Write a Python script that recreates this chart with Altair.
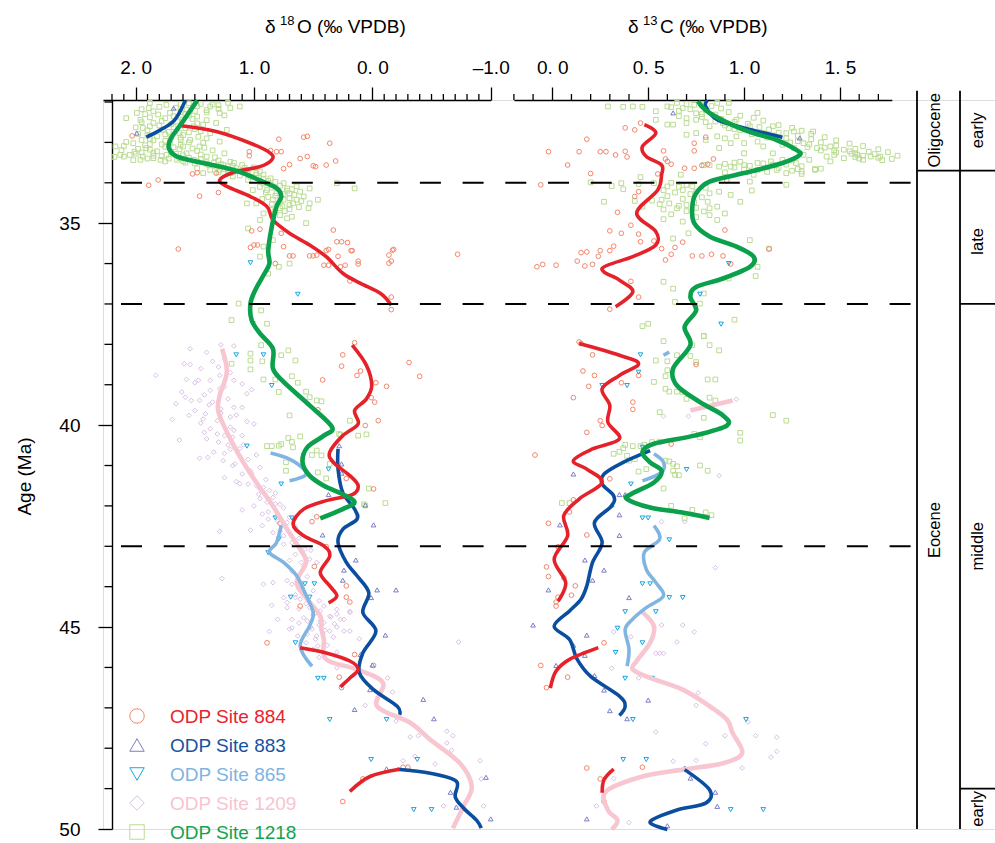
import altair as alt
import pandas as pd

FONT = "Liberation Sans"

# ---------------- sites / styling lists ----------------
SITES = ["884", "883", "865", "1209", "1218"]
LEGEND_LABELS = ["ODP Site 884", "ODP Site 883", "ODP Site 865", "ODP Site 1209", "ODP Site 1218"]
SHAPES = ["circle", "triangle-up", "triangle-down", "diamond", "square"]
POINT_COLORS = ["#F3866B", "#7B7EC6", "#1AA6E0", "#D9C0E5", "#BADB93"]
LINE_COLORS = ["#E5222A", "#0B4EA0", "#80B5E2", "#F8C6D1", "#0BA04B"]
LABEL_COLORS = ["#E8232B", "#1553A3", "#7FB3E0", "#F8C4CF", "#15A24E"]
LINE_WIDTHS = [3.6, 3.6, 3.6, 4.6, 4.6]

# ---------------- axes values ----------------
AGE_DOMAIN = [31.95, 50.0]
O_DOMAIN = [2.276, -1.0]
C_DOMAIN = [-0.2, 1.77]
O_TICKS_MAJOR = [2.0, 1.0, 0.0, -1.0]
O_TICK_LABELS = ["2. 0", "1. 0", "0. 0", "\u20131.0"]
O_TICKS_MINOR = [2.2, 2.1, 1.9, 1.8, 1.7, 1.6, 1.5, 1.4, 1.3, 1.2, 1.1, 0.9, 0.8, 0.7, 0.6, 0.5,
                 0.4, 0.3, 0.2, 0.1, -0.1, -0.2, -0.3, -0.4, -0.5, -0.6, -0.7, -0.8, -0.9]
C_TICKS_MAJOR = [0.0, 0.5, 1.0, 1.5]
C_TICK_LABELS = ["0. 0", "0. 5", "1. 0", "1. 5"]
C_TICKS_MINOR = [-0.2, -0.1, 0.1, 0.2, 0.3, 0.4, 0.6, 0.7, 0.8, 0.9, 1.1, 1.2, 1.3, 1.4, 1.6, 1.7]
AGE_TICKS_MAJOR = [35, 40, 45, 50]
AGE_TICKS_MINOR = [32, 33, 34, 36, 37, 38, 39, 41, 42, 43, 44, 46, 47, 48, 49]
DASHED_AGES = [34.0, 37.0, 43.0]

# stratigraphic column
COLUMN_TOP = 31.72
COLUMN_BOTTOM = 50.0
EPOCH_BOUNDARIES = [33.7]
SUBEPOCH_BOUNDARIES = [37.0, 49.0]
EPOCH_LABELS = ["Oligocene", "Eocene"]
EPOCH_LABEL_AGES = [32.7, 42.6]
SUBEPOCH_LABELS = ["early", "late", "middle", "early"]
SUBEPOCH_LABEL_AGES = [32.7, 35.45, 43.0, 49.5]

# ---------------- d18O points (age, value) ----------------
P884_O = [(32.84, 2.03), (32.92, 0.79), (32.87, 0.58), (32.85, 0.55), (33.02, 0.36), (33.23, 1.04),
          (33.20, 0.86), (33.23, 0.81), (33.23, 0.77), (33.33, 1.04), (33.40, 0.61), (33.35, 0.55),
          (33.46, 0.31), (33.56, 0.39), (33.60, 0.48), (33.58, 0.50), (33.55, 0.70), (33.65, 0.75),
          (33.78, 1.52), (33.75, 1.48), (33.76, 1.32), (33.93, 1.81), (34.06, 1.89), (34.24, 1.30),
          (34.33, 1.46), (35.25, 0.77), (35.19, 1.02), (35.15, 0.95), (35.17, 0.33), (35.46, 0.30),
          (35.46, 0.26), (35.48, 0.21), (35.60, 1.03), (35.54, 1.00), (35.54, 0.97), (35.58, 0.75),
          (35.65, 0.37), (35.68, 0.39), (35.68, 0.18), (35.68, 0.17), (35.65, -0.18), (35.79, -0.14),
          (35.94, -0.16), (35.99, -0.14), (35.94, 0.12), (36.01, 0.12), (36.04, 0.23), (36.08, 0.27),
          (35.82, 0.29), (36.04, 0.41), (36.04, 0.37), (35.79, 0.47), (35.81, 0.50), (35.81, 0.53),
          (35.81, 0.67), (35.81, 0.70), (36.00, 0.82), (36.43, 0.19), (35.64, 1.64), (36.83, -0.16),
          (37.14, -0.16), (35.67, -0.17), (35.77, -0.72),
          (37.96, 0.15), (38.26, 0.25), (38.54, 0.26), (38.66, 0.10), (38.77, 0.13), (38.45, -0.31),
          (38.79, -0.40), (38.88, 0.42), (38.95, -0.03), (39.04, -0.12), (39.32, 0.01), (39.43, -0.02),
          (39.89, -0.05), (40.01, 0.06), (39.62, 0.46), (41.58, -0.01), (41.32, 0.22), (42.27, 0.47),
          (42.39, 0.51), (43.50, 0.49), (43.98, 0.22), (44.26, 0.22), (44.38, 0.19), (44.48, 0.61),
          (43.01, 0.39), (42.43, 0.78),
          (45.39, 0.89), (45.68, 0.15), (45.95, -0.01), (46.24, 0.28), (46.50, 0.26), (48.76, 0.08),
          (49.32, 0.25), (48.47, -0.26), (48.47, -0.30)]
P883_O = [(32.15, 1.68), (32.77, 1.99), (40.51, 0.28), (40.96, 0.26), (41.19, 0.26), (41.72, 0.37),
          (41.98, 0.06), (42.47, -0.01), (42.72, 0.42), (43.34, 0.14), (43.59, 0.24), (43.84, 0.25),
          (44.08, -0.04), (44.08, -0.20), (44.27, 0.01), (45.20, -0.11), (45.68, 0.10), (45.94, 0.00),
          (46.55, 0.02), (46.79, -0.43), (47.04, 0.15), (47.27, -0.52), (48.51, -0.12), (49.09, -0.66),
          (48.72, -0.96), (49.75, -1.00), (49.46, -0.71)]
P865_O = [(35.98, 1.03), (36.76, 0.63), (37.49, 1.01), (38.26, 1.15), (38.26, 0.92), (39.02, 0.85),
          (40.52, 1.06), (41.46, 0.77), (41.09, 0.37), (42.30, 0.82), (42.30, 0.68), (42.82, 0.79),
          (43.16, 0.88), (43.93, 0.49), (43.93, 0.57), (44.26, 0.53), (44.26, 0.69), (45.39, 0.65),
          (46.27, 0.46), (46.27, 0.41), (47.29, 0.36), (47.29, -0.12), (48.28, 0.01), (48.28, -0.38),
          (49.52, -0.35), (49.52, -0.50)]
P1209_O = [(38.01, 1.28), (38.04, 1.17), (38.11, 1.54), (38.42, 1.35), (38.48, 1.59), (38.50, 1.54),
           (38.56, 1.30), (38.77, 1.29), (38.77, 1.83), (38.87, 1.57), (38.89, 1.47), (38.89, 1.37),
           (38.89, 1.17), (38.98, 1.10), (39.12, 1.02), (39.22, 1.06), (39.14, 1.37), (39.10, 1.29),
           (39.18, 1.61), (39.31, 1.58), (39.39, 1.53), (39.39, 1.46), (39.43, 1.35), (39.47, 1.66),
           (39.56, 1.17), (39.56, 1.10), (39.64, 1.50), (39.72, 1.41), (39.76, 1.55), (39.86, 1.69),
           (39.85, 1.43), (39.89, 1.31), (39.80, 1.20), (39.91, 1.06), (39.97, 1.00), (40.09, 1.37),
           (40.22, 1.31), (40.26, 1.25), (40.13, 1.17), (40.26, 1.10), (40.37, 1.63), (40.34, 1.40),
           (40.49, 1.22), (40.49, 1.09), (40.67, 1.34), (40.82, 1.46), (40.80, 1.39), (40.88, 1.26),
           (40.96, 1.16), (40.74, 0.98), (41.13, 1.03), (41.21, 1.10), (41.30, 1.25), (41.46, 1.05),
           (41.50, 0.98), (41.54, 0.92), (41.62, 0.87), (41.71, 0.96), (41.79, 0.84), (41.91, 0.89),
           (41.96, 0.78), (42.10, 1.10), (42.20, 0.93), (42.33, 0.88), (42.25, 0.81), (42.41, 0.72),
           (42.49, 0.93), (42.66, 0.84), (42.60, 1.03), (42.63, 1.29), (42.74, 0.75), (42.91, 0.68),
           (43.07, 0.57), (43.32, 0.53), (43.40, 0.60), (43.40, 0.47), (43.80, 1.27), (43.94, 0.92),
           (43.90, 0.84), (43.94, 0.68), (44.27, 0.75), (44.27, 0.65), (44.46, 0.85), (44.52, 0.72),
           (44.31, 0.61), (44.52, 0.53), (44.48, 0.41), (44.56, 0.30), (44.61, 0.19), (44.73, 0.36),
           (44.81, 0.24), (45.02, 0.68), (44.39, 0.72), (44.81, 0.80), (44.81, 0.68), (44.77, 0.58),
           (45.05, 0.51), (45.22, 0.47), (44.89, 0.41), (45.10, 0.36), (44.81, 0.27), (44.64, 0.19),
           (45.10, 0.24), (45.22, 0.63), (45.05, 0.70), (45.11, 0.87), (45.39, 0.56), (45.47, 0.46),
           (45.10, 0.19), (45.29, 0.11), (45.37, -0.73), (46.01, 0.30), (46.17, 0.15), (46.26, -0.13),
           (46.61, -0.17), (46.94, 0.06), (47.33, -0.20), (47.72, -0.32), (47.69, -0.39), (47.58, -0.63),
           (47.69, -0.68), (47.87, -0.63), (48.05, -0.67), (48.20, -0.36), (48.31, -0.26), (48.39, -0.53),
           (48.31, -0.91), (48.76, -0.92), (49.43, -0.94), (49.43, -0.60),
           (44.95, 0.45), (44.70, 0.50), (44.90, 0.62), (45.00, 0.30), (44.85, 0.55), (45.15, 0.42),
           (44.60, 0.44), (44.75, 0.35), (42.00, 1.00), (41.40, 1.15), (40.60, 1.20), (39.70, 1.28),
           (38.20, 1.40), (38.35, 1.25), (38.60, 1.45), (38.70, 1.20), (38.95, 1.50), (39.05, 1.25),
           (39.25, 1.42), (39.35, 1.22), (39.50, 1.38), (39.60, 1.28), (39.75, 1.15), (39.95, 1.45),
           (40.05, 1.20), (40.18, 1.42), (40.30, 1.18), (40.42, 1.30), (40.58, 1.12), (40.70, 1.25),
           (40.85, 1.05), (41.00, 1.18), (41.05, 0.95), (41.20, 1.02), (41.35, 0.90), (41.45, 1.12),
           (41.58, 0.95), (41.68, 0.82), (41.82, 0.95), (41.95, 0.82), (42.05, 0.75), (42.15, 0.88),
           (42.28, 0.70), (42.38, 0.80), (42.52, 0.65), (42.62, 0.78), (42.80, 0.62), (42.95, 0.75),
           (43.10, 0.52), (43.20, 0.65), (43.35, 0.70), (43.50, 0.58), (43.62, 0.68), (43.75, 0.55),
           (43.85, 0.72), (44.00, 0.60), (44.10, 0.50), (44.20, 0.65), (44.35, 0.45), (44.42, 0.56),
           (44.55, 0.62), (44.65, 0.48), (44.68, 0.30), (44.85, 0.44), (44.92, 0.32), (45.00, 0.52),
           (45.08, 0.40), (45.18, 0.55), (45.25, 0.33), (45.30, 0.48), (45.45, 0.38), (45.55, 0.50),
           (45.62, 0.30), (45.75, 0.45)]
P1218_O = [(32.15, 1.89), (32.31, 1.81), (32.44, 1.96), (32.52, 1.85), (32.64, 1.94), (32.69, 1.77),
           (32.27, 1.71), (32.19, 1.57), (32.36, 1.48), (32.11, 1.37), (32.27, 1.29), (32.02, 1.22),
           (32.11, 1.12), (32.77, 1.63), (32.94, 1.54), (33.10, 1.46), (32.77, 1.37), (32.98, 1.29),
           (33.27, 1.25), (33.35, 1.40), (33.43, 1.51), (33.43, 1.65), (33.43, 1.79), (33.35, 1.94),
           (33.31, 2.05), (33.31, 2.13), (33.10, 2.17), (33.02, 2.02), (32.94, 1.95), (33.18, 1.88),
           (33.31, 1.74), (33.27, 1.57), (33.64, 1.48), (33.68, 1.37), (33.56, 1.26), (33.51, 1.17),
           (33.56, 1.10), (33.68, 1.06), (33.76, 0.98), (33.80, 0.92), (34.18, 1.01), (34.18, 0.89),
           (34.01, 0.75), (34.09, 0.64), (34.14, 0.53), (34.26, 0.70), (34.34, 0.58), (34.42, 0.75),
           (34.51, 0.67), (34.51, 0.53), (34.51, 0.98), (34.51, 1.06), (34.76, 0.92), (34.92, 0.95),
           (35.00, 0.56), (35.13, 1.05), (35.42, 0.84), (35.58, 0.92), (35.83, 0.95), (36.08, 0.79),
           (36.00, 0.70), (36.25, 0.88), (36.99, 1.13), (37.16, 0.94), (37.40, 1.19), (37.49, 0.89),
           (34.42, 0.46), (34.01, 0.30), (34.14, 0.15), (34.63, 0.54), (34.84, 0.68),
           (32.40, 2.08), (32.27, 1.99), (32.02, 1.88), (32.07, 1.74), (32.48, 1.65), (32.60, 1.51),
           (32.56, 1.43), (32.52, 1.32), (32.69, 1.23), (32.85, 1.82), (33.02, 1.71), (33.10, 1.60),
           (33.14, 1.91), (33.23, 2.01), (33.35, 2.10), (33.43, 1.96), (33.39, 1.85), (33.39, 1.63),
           (33.47, 1.48), (33.51, 1.34), (33.68, 1.29), (33.76, 1.43), (33.76, 1.20), (33.64, 1.15),
           (33.85, 1.03), (33.89, 0.86), (34.26, 0.81), (34.14, 0.72), (34.22, 0.61), (34.42, 0.84),
           (34.42, 0.64), (34.63, 0.78), (34.67, 0.86),
           (32.05, 1.45), (32.08, 1.30), (32.15, 1.20), (32.20, 1.40), (32.25, 1.62), (32.33, 1.55),
           (32.40, 1.75), (32.45, 1.40), (32.55, 1.70), (32.60, 1.88), (32.65, 1.58), (32.72, 1.45),
           (32.80, 1.75), (32.83, 1.90), (32.88, 1.62), (32.90, 1.40), (32.95, 1.85), (33.00, 1.55),
           (33.05, 1.78), (33.07, 1.92), (33.12, 1.68), (33.15, 1.52), (33.20, 1.35), (33.22, 1.82),
           (33.25, 1.95), (33.28, 1.66), (33.33, 1.85), (33.38, 1.55), (33.40, 1.72), (33.45, 1.30),
           (33.48, 1.20), (33.50, 1.58), (33.53, 1.40), (33.58, 1.18), (33.60, 1.32), (33.62, 1.00),
           (33.70, 1.22), (33.72, 0.95), (33.82, 1.12), (33.87, 0.96), (33.95, 0.88), (34.05, 0.86),
           (34.10, 0.95), (34.20, 0.72), (34.30, 0.66), (34.35, 0.88), (34.45, 0.60), (34.55, 0.70),
           (34.60, 0.62), (34.70, 0.74),
           (32.03, 1.55), (32.05, 1.62), (32.06, 1.35), (32.10, 1.48), (32.12, 1.80), (32.14, 1.66),
           (32.17, 1.30), (32.18, 1.95), (32.22, 1.50), (32.23, 1.85), (32.26, 1.40), (32.29, 1.58),
           (32.30, 1.92), (32.33, 1.25), (32.35, 1.68), (32.38, 1.88), (32.42, 1.52), (32.43, 1.60),
           (32.47, 1.78), (32.50, 1.95), (32.53, 1.48), (32.58, 1.80), (32.62, 1.68), (32.63, 2.00),
           (32.67, 1.50), (32.70, 1.90), (32.74, 1.72), (32.75, 1.55), (32.79, 1.98), (32.82, 1.60),
           (32.86, 1.47), (32.87, 1.70), (32.91, 1.88), (32.93, 1.62), (32.96, 1.75), (32.99, 2.08),
           (33.01, 1.43), (33.04, 1.88), (33.06, 1.62), (33.09, 2.10), (33.11, 1.75), (33.13, 1.42),
           (33.16, 1.98), (33.17, 1.63), (33.19, 2.12), (33.21, 1.48), (33.24, 1.70), (33.26, 1.85),
           (33.28, 2.00), (33.30, 1.45), (33.32, 1.60), (33.34, 1.78), (33.36, 2.18), (33.37, 1.33),
           (33.40, 1.90), (33.41, 1.45), (33.44, 2.02), (33.46, 1.60), (33.47, 1.75), (33.49, 1.40),
           (33.52, 1.50), (33.54, 1.28), (33.57, 1.38), (33.59, 1.22), (33.63, 1.08), (33.66, 1.25),
           (33.71, 1.12), (33.74, 1.30), (33.78, 1.05), (33.81, 0.98), (33.84, 1.18), (33.90, 0.92),
           (33.93, 1.05), (33.98, 0.82), (34.02, 0.92), (34.07, 0.78), (34.12, 0.85), (34.16, 0.68),
           (34.24, 0.90), (34.28, 0.75), (34.32, 0.82), (34.38, 0.70), (34.40, 0.93), (34.48, 0.78),
           (34.52, 0.85), (34.58, 0.76), (34.65, 0.70), (34.72, 0.82), (34.80, 0.78), (34.88, 0.72),
           (38.02, 0.94), (38.15, 0.71), (38.27, 0.77), (38.23, 1.03), (38.40, 1.03), (38.48, 1.19),
           (38.42, 0.93), (38.40, 0.65), (38.62, 1.03), (38.79, 0.68), (38.87, 0.92), (38.87, 0.82),
           (38.95, 0.63), (39.18, 0.79), (39.17, 0.56), (39.31, 0.53), (39.39, 0.47), (39.41, 0.43),
           (39.76, 0.70), (40.28, 0.61), (40.32, 0.71), (40.51, 0.79), (40.52, 0.89), (40.52, 0.85),
           (40.55, 0.67), (40.47, 0.77), (40.41, 0.68), (40.63, 0.47), (40.75, 0.43), (40.74, 0.51),
           (40.92, 0.73), (41.13, 0.73), (41.17, 0.46), (41.32, 0.39), (40.96, 0.36), (40.24, 0.27),
           (40.22, 0.28), (40.26, 0.12), (40.23, 0.05), (39.89, 0.19), (41.57, 0.03), (41.93, -0.11),
           (41.96, 0.07), (41.99, 0.06)]

# ---------------- d13C points (age, value) ----------------
P884_C = [(32.52, 0.46), (32.64, 0.38), (32.69, 0.43), (32.92, 0.18), (32.87, 0.80), (33.02, 0.74),
          (33.23, -0.02), (33.23, 0.14), (33.23, 0.25), (33.23, 0.28), (33.31, 0.33), (33.22, 0.38),
          (33.36, 0.39), (33.21, 0.58), (33.21, 0.74), (33.56, 0.08), (33.41, 0.59), (33.54, 0.62),
          (33.47, 0.60), (33.64, 0.69), (33.64, 0.74), (33.57, 0.78), (33.54, 0.81), (33.41, 0.84),
          (33.77, 0.20), (34.05, -0.06), (33.78, 0.55), (33.95, 0.91), (34.22, 0.45), (34.34, 0.43),
          (34.73, 0.34), (35.05, 0.41), (35.19, 0.30), (35.25, 0.36), (35.27, 0.45), (35.46, 0.46),
          (35.44, 0.53), (35.63, 0.57), (35.60, 0.64), (35.47, 0.68), (35.17, 0.90), (35.57, 0.32),
          (35.68, 0.25), (35.71, 0.18), (35.73, 0.15), (35.94, 0.13), (36.04, 0.02), (36.02, -0.05),
          (36.08, -0.08), (36.06, 0.17), (36.02, 0.21), (35.82, 0.24), (35.68, 0.30), (35.91, 0.59),
          (35.77, 0.62), (35.81, 0.73), (35.81, 0.78), (35.77, 0.83), (35.81, 0.89), (36.01, 0.93),
          (35.64, 1.13), (36.44, 0.41), (36.83, 0.45), (37.13, 0.30), (37.94, 0.14),
          (37.98, 0.15), (38.26, 0.21), (38.66, 0.16), (38.77, 0.22), (39.04, 0.19), (39.32, 0.11),
          (38.95, 0.36), (39.43, 0.42), (39.61, 0.42), (39.89, 0.25), (40.01, 0.26), (40.18, 0.18),
          (40.74, -0.09), (41.33, 0.30), (41.85, 0.11), (42.15, 0.09), (42.43, -0.02), (42.72, 0.18),
          (43.01, 0.03), (43.51, -0.03), (43.75, -0.02), (43.78, 0.06), (43.98, 0.12), (44.21, 0.10),
          (44.26, 0.03), (44.38, 0.02), (44.48, 0.02), (38.50, 0.75), (38.77, 0.45), (40.47, 0.62),
          (45.39, 0.27), (45.95, -0.06), (46.24, 0.08), (46.50, -0.03), (48.49, 0.18), (48.47, 0.47),
          (48.76, 0.25), (49.32, 0.27)]
P883_C = [(32.27, 0.63), (32.89, 1.29), (41.21, 0.11), (41.72, 0.35), (41.72, 0.38), (41.97, 0.31),
          (42.22, 0.35), (42.47, 0.04), (42.73, 0.35), (43.34, 0.17), (43.59, 0.27), (43.84, 0.21),
          (44.08, -0.02), (44.27, 0.40), (44.95, -0.10), (45.20, 0.18), (45.45, 0.11), (45.70, 0.17),
          (45.95, 0.02), (46.20, 0.22), (46.56, 0.27), (46.81, 0.50), (47.07, 0.30), (47.27, 0.39),
          (48.49, 0.69), (48.74, 0.72), (49.09, 0.85), (49.44, 0.86), (49.75, 0.18), (49.92, 0.60)]
P865_C = [(36.76, 0.77), (37.50, 0.88), (36.00, 0.92), (38.26, 0.46), (38.69, 0.45), (39.02, 0.26),
          (39.02, 0.39), (40.55, 0.47), (41.10, 0.70), (41.46, 0.41), (42.30, 0.47), (42.30, 0.50),
          (42.84, 0.61), (43.93, 0.47), (43.93, 0.51), (44.27, 0.61), (44.27, 0.68), (44.62, 0.38),
          (44.62, 0.54), (45.03, 0.34), (45.39, 0.47), (45.63, 0.33), (46.27, 0.38), (46.27, 0.52),
          (47.29, 0.42), (47.29, 1.01), (48.28, 0.37), (48.28, 0.49), (49.52, 0.93), (49.52, 1.10)]
P1209_C = [(39.78, 0.58), (39.78, 0.71), (39.36, 0.96), (41.25, 0.87), (42.39, 0.57), (42.39, 0.69),
           (43.53, 0.85), (44.95, 0.57), (44.95, 0.68), (45.12, 0.74), (45.12, 0.32), (45.24, 0.41),
           (45.37, 0.65), (45.65, 0.54), (45.65, 0.56), (45.65, 0.58), (46.02, 0.31), (46.26, 0.45),
           (46.63, 0.76), (46.94, 0.75), (47.35, 1.02), (47.60, 0.54), (47.69, 0.90), (47.69, 1.06),
           (47.73, 1.17), (47.89, 0.80), (48.08, 1.17), (48.22, 1.14), (48.32, 0.63), (48.30, 0.75),
           (48.49, 0.99), (48.75, 0.32), (49.43, 0.23), (49.84, 0.40)]
P1218_C = [(32.11, 0.29), (32.12, 0.37), (32.11, 0.42), (32.12, 0.47), (32.23, 0.54), (32.11, 0.60),
           (32.02, 0.65), (32.15, 0.68), (32.07, 0.74), (32.02, 0.86), (32.02, 0.92), (32.44, 0.54),
           (32.56, 0.60), (32.56, 0.63), (32.52, 0.70), (32.44, 0.75), (32.60, 0.82), (32.52, 0.89),
           (32.44, 0.96), (32.27, 1.07), (32.60, 1.03), (32.77, 1.10), (32.60, 1.15), (32.77, 1.22),
           (32.73, 1.26), (32.73, 1.36), (33.02, 1.31), (33.14, 1.38), (33.10, 1.45), (33.18, 1.52),
           (33.31, 1.59), (33.35, 1.66), (33.35, 1.71), (33.41, 1.77), (33.39, 1.52), (33.35, 1.43),
           (33.43, 1.34), (33.51, 1.27), (33.43, 1.20), (33.47, 1.14), (33.51, 1.07), (33.56, 1.00),
           (33.68, 1.07), (33.68, 1.17), (33.76, 1.22), (33.68, 1.37), (33.60, 0.93), (33.60, 0.87),
           (33.56, 0.82), (33.56, 0.79), (32.77, 0.75), (32.85, 0.86), (33.02, 0.93), (33.02, 1.00),
           (32.98, 1.07), (33.27, 1.15), (32.85, 0.96), (32.94, 0.80), (32.81, 0.70), (33.14, 0.87),
           (33.27, 1.00), (33.10, 1.10), (33.14, 1.26), (33.31, 1.47), (33.43, 1.62), (33.22, 1.55),
           (33.47, 1.45), (33.31, 1.31),
           (32.35, 0.66), (32.40, 0.70), (32.30, 0.78), (32.48, 0.85), (32.65, 0.92), (32.70, 0.98),
           (32.80, 1.04), (32.88, 1.12), (32.92, 1.18), (33.00, 1.24), (33.06, 1.20), (33.12, 1.33),
           (33.20, 1.40), (33.25, 1.48), (33.28, 1.56), (33.33, 1.62), (33.38, 1.70), (33.45, 1.25),
           (33.55, 1.15), (33.62, 1.12), (33.66, 1.28), (33.72, 1.30), (33.50, 0.95), (32.90, 0.90),
           (32.05, 0.70), (32.08, 0.78), (32.10, 0.83), (32.13, 0.62), (32.16, 0.88), (32.18, 0.72),
           (32.20, 0.80), (32.22, 0.66), (32.25, 0.92), (32.28, 0.75), (32.31, 0.85), (32.34, 0.98),
           (32.37, 0.78), (32.39, 1.05), (32.42, 0.88), (32.46, 1.10), (32.49, 0.95), (32.50, 0.80),
           (32.54, 1.02), (32.57, 1.18), (32.58, 0.90), (32.62, 1.08), (32.64, 1.25), (32.67, 0.95),
           (32.68, 1.13), (32.71, 1.30), (32.75, 1.05), (32.76, 1.18), (32.79, 1.35), (32.83, 1.15),
           (32.84, 1.28), (32.87, 1.42), (32.90, 1.22), (32.92, 1.35), (32.95, 1.48), (32.97, 1.28),
           (33.00, 1.40), (33.03, 1.55), (33.05, 1.34), (33.08, 1.48), (33.09, 1.62), (33.13, 1.42),
           (33.16, 1.58), (33.17, 1.70), (33.20, 1.47), (33.23, 1.65), (33.24, 1.75), (33.27, 1.58),
           (33.29, 1.68), (33.33, 1.80), (33.36, 1.58), (33.40, 1.60), (33.44, 1.72), (33.48, 0.98),
           (33.52, 1.10), (33.53, 0.90), (33.55, 1.22), (33.58, 1.03), (33.59, 1.30), (33.62, 0.95),
           (33.63, 1.18), (33.65, 1.40), (33.67, 1.00), (33.70, 1.25), (33.73, 1.12), (33.74, 0.90),
           (33.78, 1.30), (33.80, 1.05),
           (33.86, 0.46), (33.80, 0.67), (33.99, 0.20), (34.01, 0.36), (34.03, 0.45), (34.01, 0.53),
           (34.09, 0.60), (34.18, 0.68), (34.09, 0.73), (34.22, 0.75), (34.26, 0.82), (34.22, 0.87),
           (34.30, 0.93), (34.47, 0.98), (34.19, 1.04), (33.97, 1.03), (34.16, 0.37), (34.47, 0.27),
           (34.08, 0.31), (34.45, 0.43), (34.59, 0.47), (34.42, 0.57), (34.51, 0.61), (34.63, 0.65),
           (34.55, 0.70), (34.47, 0.81), (34.63, 0.82), (34.71, 0.79), (34.59, 0.86), (34.76, 0.90),
           (34.80, 0.82), (34.96, 0.68), (35.25, 0.71), (34.92, 0.86), (35.38, 0.63), (35.42, 1.03),
           (36.08, 1.07), (36.31, 1.06), (36.37, 0.92), (34.05, 1.22), (35.63, 1.13), (36.45, 0.58),
           (36.62, 0.63), (36.74, 0.79), (36.95, 0.64), (36.99, 0.77), (37.49, 0.50), (37.55, 0.47),
           (37.39, 0.95), (37.80, 0.79), (37.92, 0.58), (33.66, 1.37),
           (34.00, 0.62), (34.05, 0.70), (34.10, 0.66), (34.12, 0.80), (34.18, 0.58), (34.24, 0.64),
           (34.28, 0.72), (34.33, 0.60), (34.36, 0.78), (34.40, 0.68), (34.44, 0.52), (34.48, 0.74),
           (34.53, 0.56), (34.57, 0.66), (34.62, 0.75), (34.66, 0.58), (34.70, 0.70), (34.78, 0.62),
           (34.85, 0.75), (34.90, 0.58),
           (37.79, 0.79), (38.02, 0.73), (38.02, 0.82), (38.15, 0.87), (38.27, 0.65), (38.29, 0.72),
           (38.40, 0.54), (38.42, 0.60), (38.44, 0.75), (38.64, 0.60), (38.79, 0.59), (38.93, 0.53),
           (38.87, 0.81), (38.87, 0.85), (39.10, 0.59), (39.17, 0.61), (39.17, 0.65), (39.18, 0.68),
           (39.35, 0.70), (39.32, 0.82), (39.39, 0.85), (39.68, 0.56), (39.82, 0.79), (39.75, 1.15),
           (39.89, 1.22), (40.19, 0.98), (40.38, 0.98), (40.22, 0.74), (40.30, 0.77), (40.42, 0.52),
           (40.41, 0.56), (40.49, 0.38), (40.57, 0.37), (40.52, 0.42), (40.52, 0.46), (40.49, 0.48),
           (40.71, 0.32), (40.66, 0.35), (40.76, 0.39), (40.84, 0.43), (40.88, 0.40), (40.88, 0.59),
           (40.90, 0.61), (40.96, 0.63), (41.02, 0.65), (41.13, 0.81), (41.00, 0.77), (41.13, 0.63),
           (41.23, 0.64), (41.24, 0.66), (41.15, 0.45), (41.09, 0.49), (41.57, 0.58), (41.93, 0.05),
           (41.93, 0.09), (42.00, 0.62), (42.10, 0.73), (42.16, 0.80), (42.23, 0.83), (42.31, 0.69)]

# ---------------- smoothed curves (lists of segments of (age, value)) ----------------
L884_O = [
    [(32.58, 1.63), (32.73, 1.32), (33.02, 1.03), (33.27, 0.86), (33.43, 0.85), (33.60, 0.95),
     (33.74, 1.17), (33.93, 1.29), (34.09, 1.23), (34.34, 1.03), (34.59, 0.89), (34.92, 0.84),
     (35.25, 0.70), (35.54, 0.53), (35.83, 0.39), (36.24, 0.25), (36.49, 0.10), (36.74, -0.07),
     (37.03, -0.16)],
    [(38.02, 0.17), (38.52, 0.05), (39.02, 0.005), (39.35, 0.05), (39.64, 0.15), (39.97, 0.12),
     (40.26, 0.25), (40.67, 0.36), (40.92, 0.33), (41.25, 0.19), (41.50, 0.12), (41.72, 0.17),
     (41.87, 0.39), (42.08, 0.58), (42.45, 0.67), (42.74, 0.58), (42.99, 0.41), (43.24, 0.36),
     (43.65, 0.44), (43.98, 0.36), (44.23, 0.30), (44.40, 0.37)],
    [(45.51, 0.61), (45.64, 0.39), (45.84, 0.19), (46.05, 0.12), (46.26, 0.19), (46.48, 0.27)],
    [(48.52, -0.23), (48.70, 0.02), (49.07, 0.19)],
]
L883_O = [
    [(31.96, 1.58), (32.44, 1.67), (32.69, 1.79), (32.87, 1.91)],
    [(40.59, 0.29), (41.09, 0.29), (41.67, 0.25), (42.08, 0.15), (42.33, 0.13), (42.58, 0.25),
     (42.91, 0.29), (43.40, 0.22), (43.73, 0.13), (44.15, 0.03), (44.64, 0.08), (45.10, -0.03),
     (45.64, 0.08), (46.13, 0.11), (46.55, -0.01), (46.96, -0.21), (47.17, -0.23)],
    [(48.52, -0.21), (48.62, -0.49), (48.82, -0.71), (49.20, -0.70), (49.48, -0.77), (49.78, -0.88),
     (49.98, -0.92)],
]
L865_O = [
    [(40.69, 0.86), (40.84, 0.70), (41.09, 0.58), (41.25, 0.57), (41.38, 0.70)],
    [(42.49, 0.77), (42.91, 0.81), (43.15, 0.87), (43.40, 0.75), (43.73, 0.64), (44.15, 0.57),
     (44.64, 0.50), (44.97, 0.53), (45.47, 0.61), (45.97, 0.51)],
]
L1209_O = [
    [(38.11, 1.27), (38.69, 1.23), (39.27, 1.29), (39.68, 1.30), (40.34, 1.20), (40.92, 1.09),
     (41.42, 0.98), (42.00, 0.84), (42.58, 0.72), (43.07, 0.61), (43.40, 0.56), (43.90, 0.64),
     (44.31, 0.55), (44.73, 0.44), (45.06, 0.43), (45.31, 0.41), (45.80, 0.39), (46.05, 0.13),
     (46.38, -0.09), (46.96, -0.04), (47.37, -0.32), (47.79, -0.49), (48.37, -0.74), (48.95, -0.84),
     (49.44, -0.77), (49.98, -0.68)],
]
L1218_O = [
    [(31.96, 1.48), (32.52, 1.61), (32.89, 1.70), (33.14, 1.72), (33.35, 1.65), (33.51, 1.43),
     (33.70, 1.15), (33.94, 0.95), (34.13, 0.81), (34.34, 0.77), (34.59, 0.81), (35.09, 0.85),
     (35.67, 0.88), (36.00, 0.87), (36.29, 0.92), (36.66, 0.99), (36.99, 1.03), (37.40, 1.02),
     (37.73, 0.95), (38.11, 0.84), (38.60, 0.84), (38.93, 0.75), (39.51, 0.53), (40.05, 0.34),
     (40.26, 0.41), (40.55, 0.55), (40.92, 0.59), (41.25, 0.53), (41.50, 0.41), (41.71, 0.25),
     (41.91, 0.15), (42.08, 0.25), (42.31, 0.44)],
]
L884_C = [
    [(32.56, 0.48), (32.77, 0.54), (33.10, 0.47), (33.35, 0.49), (33.56, 0.57), (33.80, 0.57),
     (34.18, 0.55), (34.75, 0.44), (35.21, 0.54), (35.54, 0.54), (35.83, 0.42), (36.12, 0.26),
     (36.41, 0.35), (36.70, 0.42), (37.07, 0.33)],
    [(37.98, 0.14), (38.27, 0.35), (38.48, 0.45), (38.77, 0.35), (39.10, 0.26), (39.51, 0.30),
     (39.93, 0.29), (40.34, 0.35), (40.59, 0.21), (40.88, 0.11), (41.09, 0.18), (41.42, 0.26),
     (41.83, 0.14), (42.24, 0.06), (42.74, 0.08), (43.32, 0.01), (43.90, 0.07), (44.36, 0.03)],
    [(45.51, 0.24), (45.80, 0.09), (46.09, 0.02), (46.51, -0.01)],
    [(48.52, 0.32), (48.78, 0.27), (49.10, 0.26)],
]
L883_C = [
    [(31.96, 0.81), (32.11, 0.80), (32.44, 0.86), (32.64, 1.00), (32.87, 1.20)],
    [(40.63, 0.51), (40.92, 0.37), (41.21, 0.27), (41.46, 0.26), (41.75, 0.32), (42.00, 0.31),
     (42.41, 0.22), (42.91, 0.26), (43.40, 0.21), (43.98, 0.18), (44.31, 0.15), (44.60, 0.09),
     (44.98, 0.01), (45.31, 0.09), (45.80, 0.13), (46.22, 0.20), (46.71, 0.35), (46.96, 0.38),
     (47.19, 0.35)],
    [(48.53, 0.69), (49.03, 0.82), (49.36, 0.80), (49.53, 0.65), (49.82, 0.51), (50.01, 0.60)],
]
L865_C = [
    [(38.19, 0.61), (38.27, 0.58)],
    [(40.71, 0.53), (40.92, 0.58), (41.17, 0.57), (41.38, 0.47)],
    [(42.49, 0.53), (42.82, 0.56), (43.15, 0.48), (43.57, 0.49), (43.90, 0.54), (44.23, 0.58),
     (44.52, 0.49), (44.80, 0.42), (45.06, 0.38), (45.55, 0.40), (45.97, 0.39)],
]
L1209_C = [
    [(39.39, 0.94), (39.64, 0.72)],
    [(44.63, 0.47), (44.98, 0.53), (45.39, 0.51), (45.84, 0.44), (46.05, 0.42), (46.26, 0.51),
     (46.55, 0.68), (46.96, 0.82), (47.29, 0.91), (47.62, 0.94), (48.12, 0.99), (48.37, 0.89),
     (48.53, 0.68), (48.70, 0.47), (49.07, 0.28), (49.53, 0.29), (49.78, 0.34), (50.01, 0.31)],
]
L1218_C = [
    [(31.98, 0.76), (32.27, 0.82), (32.69, 1.00), (32.94, 1.17), (33.18, 1.27), (33.31, 1.29),
     (33.51, 1.20), (33.76, 1.00), (33.97, 0.82), (34.26, 0.75), (34.59, 0.73), (35.00, 0.74),
     (35.33, 0.82), (35.58, 0.96), (35.83, 1.05), (36.08, 1.03), (36.37, 0.89), (36.58, 0.75),
     (36.83, 0.72), (37.16, 0.75), (37.57, 0.69), (38.02, 0.72), (38.60, 0.63), (39.02, 0.65),
     (39.43, 0.77), (39.76, 0.89), (40.01, 0.91), (40.26, 0.74), (40.46, 0.53), (40.67, 0.47),
     (40.92, 0.51), (41.13, 0.57), (41.42, 0.53), (41.71, 0.41), (41.83, 0.39), (42.04, 0.51),
     (42.16, 0.67), (42.30, 0.82)],
]

POINTS_O = {"884": P884_O, "883": P883_O, "865": P865_O, "1209": P1209_O, "1218": P1218_O}
POINTS_C = {"884": P884_C, "883": P883_C, "865": P865_C, "1209": P1209_C, "1218": P1218_C}
LINES_O = {"884": L884_O, "883": L883_O, "865": L865_O, "1209": L1209_O, "1218": L1218_O}
LINES_C = {"884": L884_C, "883": L883_C, "865": L865_C, "1209": L1209_C, "1218": L1218_C}

# ---------------- layout (pixels) ----------------
W, H = 892, 729
O_RANGE = [0, 387.7]
C_RANGE = [410.9, 788.8]

YS = alt.Scale(domain=AGE_DOMAIN, reverse=True, nice=False, zero=False)
XS_O = alt.Scale(domain=O_DOMAIN, range=O_RANGE, nice=False, zero=False)
XS_C = alt.Scale(domain=C_DOMAIN, range=C_RANGE, nice=False, zero=False)

Y_AXIS = alt.Axis(values=AGE_TICKS_MAJOR, tickSize=14, offset=-9, title="Age (Ma)",
                  labelFontSize=19, labelFont=FONT, labelColor="black", labelPadding=18,
                  titleFont=FONT, titleFontSize=19, titleFontWeight="normal", titleColor="black",
                  titleX=-88, titleY=376, titleAngle=270, titleAlign="center", titleBaseline="middle",
                  domainColor="black", domainWidth=1.4, tickColor="black", tickWidth=1.3, grid=False)


def Y(field="age"):
    return alt.Y(f"{field}:Q", scale=YS, axis=Y_AXIS)


def label_expr(vals, labs):
    s = ""
    for v, lab in zip(vals, labs):
        s += f"abs(datum.value - ({v})) < 0.001 ? '{lab}' : "
    return s + "''"


def top_axis(vals, labs):
    return alt.Axis(orient="top", values=vals, labelExpr=label_expr(vals, labs), tickSize=13,
                    labelFontSize=19, labelFont=FONT, labelColor="black", labelPadding=14,
                    labelBaseline="alphabetic", labelFlush=False, labelOverlap=False, title=None,
                    domainColor="black", domainWidth=1.4, tickColor="black", tickWidth=1.3, grid=False)


def seg_frame(segs):
    rows = []
    for si, seg in enumerate(segs):
        for oi, (a, v) in enumerate(seg):
            rows.append({"seg": si, "ord": oi, "age": a, "val": v})
    return pd.DataFrame(rows)


layers = []

# point clouds (green and lavender underneath)
point_order = ["1218", "1209", "884", "883", "865"]
for panel, pts, xs in [("O", POINTS_O, XS_O), ("C", POINTS_C, XS_C)]:
    for s in point_order:
        i = SITES.index(s)
        df = pd.DataFrame(pts[s], columns=["age", "val"])
        layers.append(
            alt.Chart(df).mark_point(shape=SHAPES[i], filled=False, size=22, strokeWidth=1,
                                     color=POINT_COLORS[i], opacity=1)
            .encode(x=alt.X("val:Q", scale=xs, axis=None), y=Y())
        )

# smoothed curves
line_order = ["1209", "865", "883", "884", "1218"]
for panel, lines, xs in [("O", LINES_O, XS_O), ("C", LINES_C, XS_C)]:
    for s in line_order:
        i = SITES.index(s)
        df = seg_frame(lines[s])
        layers.append(
            alt.Chart(df).mark_line(interpolate="cardinal", strokeWidth=LINE_WIDTHS[i],
                                    color=LINE_COLORS[i], strokeCap="butt")
            .encode(x=alt.X("val:Q", scale=xs, axis=None), y=Y(), detail="seg:N", order="ord:Q")
        )

# top axes with major ticks + minor ticks
for vals, labs, minor, xs in [(O_TICKS_MAJOR, O_TICK_LABELS, O_TICKS_MINOR, XS_O),
                              (C_TICKS_MAJOR, C_TICK_LABELS, C_TICKS_MINOR, XS_C)]:
    layers.append(
        alt.Chart(pd.DataFrame({"t": minor})).mark_rule(color="black", strokeWidth=1.3)
        .encode(x=alt.X("t:Q", scale=xs, axis=top_axis(vals, labs)), y=alt.value(-6), y2=alt.value(0))
    )

# minor age ticks
layers.append(
    alt.Chart(pd.DataFrame({"age": AGE_TICKS_MINOR})).mark_rule(color="black", strokeWidth=1.3)
    .encode(y=Y(), x=alt.value(1.5), x2=alt.value(9))
)

# dashed boundary lines
layers.append(
    alt.Chart(pd.DataFrame({"age": DASHED_AGES})).mark_rule(color="black", strokeWidth=2,
                                                            strokeDash=[21, 21.7])
    .encode(y=Y(), x=alt.value(18), x2=alt.value(814))
)

# stratigraphic column
col_df = pd.DataFrame({"age": [COLUMN_TOP], "age2": [COLUMN_BOTTOM]})
for xpos in [814, 857]:
    layers.append(
        alt.Chart(col_df).mark_rule(color="black", strokeWidth=1.8)
        .encode(y=Y(), y2="age2:Q", x=alt.value(xpos))
    )
layers.append(
    alt.Chart(pd.DataFrame({"age": EPOCH_BOUNDARIES})).mark_rule(color="black", strokeWidth=1.8)
    .encode(y=Y(), x=alt.value(814), x2=alt.value(892))
)
layers.append(
    alt.Chart(pd.DataFrame({"age": SUBEPOCH_BOUNDARIES})).mark_rule(color="black", strokeWidth=1.8)
    .encode(y=Y(), x=alt.value(857), x2=alt.value(892))
)
layers.append(
    alt.Chart(pd.DataFrame({"age": EPOCH_LABEL_AGES, "lab": EPOCH_LABELS}))
    .mark_text(angle=270, fontSize=16.5, font=FONT, color="black", align="center", baseline="middle")
    .encode(y=Y(), x=alt.value(832), text="lab:N")
)
layers.append(
    alt.Chart(pd.DataFrame({"age": SUBEPOCH_LABEL_AGES, "lab": SUBEPOCH_LABELS}))
    .mark_text(angle=270, fontSize=16.5, font=FONT, color="black", align="center", baseline="middle")
    .encode(y=Y(), x=alt.value(875), text="lab:N")
)

# panel titles: delta, superscript isotope number, rest
TITLE_PARTS = [
    ("\u03b4", 162, -66.7, 19), ("18", 177, -75, 13), ("O (\u2030 VPDB)", 194, -66.7, 19),
    ("\u03b4", 525, -66.7, 19), ("13", 540, -75, 13), ("C (\u2030 VPDB)", 557, -66.7, 19),
]
one = pd.DataFrame({"k": [0]})
for txt, xp, yp, fs in TITLE_PARTS:
    layers.append(
        alt.Chart(one).mark_text(align="left", baseline="alphabetic", fontSize=fs, font=FONT,
                                 color="black", text=txt)
        .encode(x=alt.value(xp), y=alt.value(yp))
    )

# legend
LEG_Y = [616, 645, 674, 703, 732]
for i, s in enumerate(SITES):
    layers.append(
        alt.Chart(one).mark_point(shape=SHAPES[i], filled=False, size=210, strokeWidth=1,
                                  color=POINT_COLORS[i], opacity=1)
        .encode(x=alt.value(34), y=alt.value(LEG_Y[i]))
    )
    layers.append(
        alt.Chart(one).mark_text(align="left", baseline="middle", fontSize=19, font=FONT,
                                 color=LABEL_COLORS[i], text=LEGEND_LABELS[i])
        .encode(x=alt.value(67), y=alt.value(LEG_Y[i] + 1))
    )

chart = (
    alt.layer(*layers)
    .resolve_scale(x="independent")
    .properties(width=W, height=H, autosize=alt.AutoSizeParams(type="none"),
                padding={"left": 103, "top": 100, "right": 0, "bottom": 14})
    .configure_view(stroke=None)
    .configure(font=FONT, background="white")
)

chart.save("out.html", embed_options={"renderer": "svg", "actions": False})
